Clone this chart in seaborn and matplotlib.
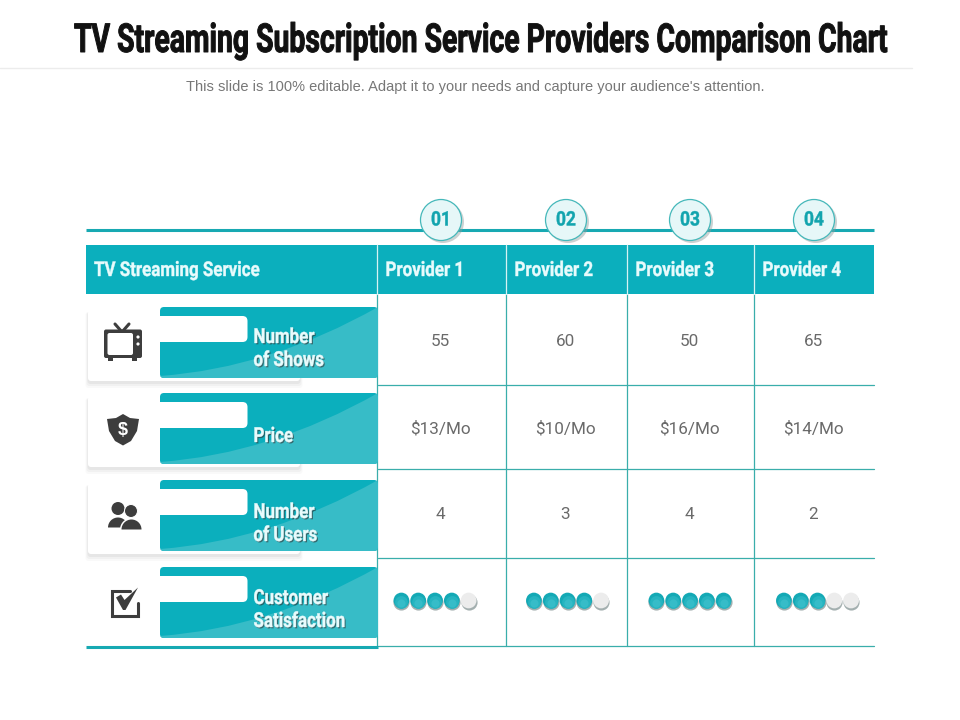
import matplotlib
matplotlib.use("Agg")
import matplotlib.pyplot as plt
import matplotlib.patheffects as pe
from matplotlib.colors import to_rgb
from matplotlib.patches import Circle, FancyBboxPatch, PathPatch, Rectangle, Wedge
from matplotlib.path import Path
from matplotlib.transforms import Affine2D
import pandas as pd
import seaborn as sns

title = "TV Streaming Subscription Service Providers Comparison Chart"
subtitle = "This slide is 100% editable. Adapt it to your needs and capture your audience's attention."
corner_label = "TV Streaming Service"
providers = ["Provider 1", "Provider 2", "Provider 3", "Provider 4"]
badges = ["01", "02", "03", "04"]
row_labels = [["Number", "of Shows"], ["Price"], ["Number", "of Users"], ["Customer", "Satisfaction"]]
shows = ["55", "60", "50", "65"]
prices = ["$13/Mo", "$10/Mo", "$16/Mo", "$14/Mo"]
users = ["4", "3", "4", "2"]
satisfaction = [4, 4, 5, 3]
max_rating = 5

TEAL = "#0bafbd"
LIGHT = "#37bcc7"
LINE = "#3aaeab"
DARK = "#3d3d3d"
HEAD = "#e8fbfc"


class Tall(pe.AbstractPathEffect):
    # no condensed font here, so stretch the glyphs upward from the baseline
    def __init__(self, sy, weight=0.0, shadow=None):
        super().__init__()
        self.sy = sy
        self.weight = weight
        self.shadow = shadow

    def draw_path(self, renderer, gc, tpath, affine, rgbFace=None):
        stretched = Affine2D().scale(1, self.sy) + affine
        if self.shadow:
            gc0 = renderer.new_gc()
            gc0.copy_properties(gc)
            gc0.set_linewidth(0)
            gc0.set_alpha(0.6)
            renderer.draw_path(gc0, tpath, stretched + Affine2D().translate(1.3, -1.3), to_rgb(self.shadow))
            gc0.restore()
        gc1 = renderer.new_gc()
        gc1.copy_properties(gc)
        gc1.set_linewidth(self.weight)
        gc1.set_foreground(rgbFace)
        renderer.draw_path(gc1, tpath, stretched, rgbFace)
        gc1.restore()


sns.set_theme(style="white")
fig = plt.figure(figsize=(9.6, 7.2), dpi=100, facecolor="white")
ax = fig.add_axes([0, 0, 1, 1])
ax.set_xlim(0, 960)
ax.set_ylim(720, 0)
ax.axis("off")

# layout of the table, in pixels
col_edges = [377, 506, 627, 754, 874]
col_centers = [441, 566, 690, 814]
dot_centers = [435, 567.5, 690, 817.5]
row_tops = [307, 393, 480, 567]
row_lines = [385, 469, 558, 646]
value_y = [341.5, 428.5, 514.5]
label_base = [[343, 366], [442], [518, 541], [604, 627]]


def narrow(x, y, s, size=12.2, sy=1.2, color=HEAD, weight=0.3, shadow=None, ha="left", z=4):
    ax.text(x, y, s, ha=ha, va="baseline", fontsize=size, family="Roboto", weight="bold", color=color,
            zorder=z, path_effects=[Tall(sy, weight, shadow)])


# title block
narrow(481, 52, title, size=20.4, sy=1.41, color="#111111", weight=0.7, ha="center")
ax.plot([0, 912], [68, 68], color="#ececec", lw=1)
ax.text(475.5, 86.5, subtitle, ha="center", va="center", fontsize=10.5,
        family="Liberation Sans", color="#777777")

# top rule, header band
ax.plot([86, 874], [229.5, 229.5], color="#17a9b2", lw=2.2, solid_capstyle="butt")
ax.add_patch(Rectangle((86, 245), 788, 49, color=TEAL, lw=0))
narrow(94, 276, corner_label)
for i, name in enumerate(providers):
    narrow(col_edges[i] + 8.5, 276, name)
    ax.add_patch(Circle((col_centers[i] + 2, 222), 21, color="#8f9c9c", alpha=0.45, lw=0, zorder=3))
    ax.add_patch(Circle((col_centers[i], 220), 20.5, facecolor="#e6f7f8", edgecolor="#45b8ba", lw=0.9, zorder=3))
    narrow(col_centers[i], 225.5, badges[i], size=12.5, sy=1.15, color="#12a4ae", ha="center")

# grid lines
for x in col_edges[:-1]:
    ax.plot([x, x], [245, 646], color=LINE, lw=0.9, zorder=1)
    ax.plot([x, x], [245, 294], color="#d5f3f5", lw=0.9, zorder=2)
for y in row_lines:
    ax.plot([378, 874], [y, y], color=LINE, lw=0.9, zorder=1)


def draw_row_tab(top, lines, bases, last=False):
    bottom = top + 71
    if not last:
        for spread, alpha in [(5, 0.05), (3, 0.08), (1, 0.12)]:
            ax.add_patch(FancyBboxPatch((88 - spread / 2, top + 5), 212 + spread, 71 + spread,
                                        boxstyle="round,pad=0,rounding_size=3", color="#9a9a9a",
                                        alpha=alpha, lw=0, zorder=2))
    ax.add_patch(FancyBboxPatch((88, top + 3), 212, 71 + (5 if last else 0),
                                boxstyle="round,pad=0,rounding_size=3", color="white", lw=0, zorder=2))
    tab = FancyBboxPatch((160, top), 218, 71, boxstyle="round,pad=0,rounding_size=4",
                         color=TEAL, lw=0, zorder=3)
    ax.add_patch(tab)
    wedge = PathPatch(Path([(160, bottom - 2), (270, bottom - 10), (378, top), (378, bottom), (160, bottom)],
                           [Path.MOVETO, Path.CURVE3, Path.CURVE3, Path.LINETO, Path.LINETO]),
                      color=LIGHT, lw=0, zorder=3)
    ax.add_patch(wedge)
    wedge.set_clip_path(tab)
    ax.add_patch(FancyBboxPatch((150, top + 9), 97.5, 26, boxstyle="round,pad=0,rounding_size=5",
                                color="white", lw=0, zorder=3))
    for text, base in zip(lines, bases):
        narrow(253.5, base, text, size=12.2, sy=1.22, shadow="#333333")


for i, top in enumerate(row_tops):
    draw_row_tab(top, row_labels[i], label_base[i], last=i == len(row_tops) - 1)
ax.plot([86, 378], [647, 647], color="#17a9b2", lw=2.2, solid_capstyle="butt", zorder=4)

# values
for y, values in zip(value_y, [shows, prices, users]):
    for x, v in zip(col_centers, values):
        ax.text(x - 0.5, y, v, ha="center", va="center", fontsize=12.3, family="Roboto", color="#6a6a6a")

# rating dots
rows = []
for center, score in zip(dot_centers, satisfaction):
    for slot in range(max_rating):
        rows.append({"x": center + (slot - 2) * 16.8, "filled": slot < score})
dots = pd.DataFrame(rows)
dots["y"] = 600.5
shade = dots.assign(y=602)
sns.scatterplot(data=shade, x="x", y="y", color="#a3afaf", s=135, linewidth=0, ax=ax, legend=False, zorder=5)
sns.scatterplot(data=dots, x="x", y="y", hue="filled", palette={True: "#14a9b5", False: "#ececec"},
                s=128, linewidth=0, ax=ax, legend=False, zorder=6)
glow = dots[dots["filled"]].assign(y=601.5)
sns.scatterplot(data=glow, x="x", y="y", color="#26b4c0", s=85, linewidth=0, ax=ax, legend=False, zorder=7)
sns.scatterplot(data=glow.assign(y=602.5), x="x", y="y", color="#36bcc8", s=35, linewidth=0, ax=ax, legend=False, zorder=8)
ax.set_xlim(0, 960)
ax.set_ylim(720, 0)
ax.set_xlabel("")
ax.set_ylabel("")

# icons
# tv
ax.plot([115, 122, 129], [324, 332, 324], color=DARK, lw=2.2, zorder=6)
ax.add_patch(FancyBboxPatch((104, 329.5), 38, 28.5, boxstyle="round,pad=0,rounding_size=2", color=DARK, lw=0, zorder=6))
ax.add_patch(FancyBboxPatch((107.5, 333), 25.5, 22, boxstyle="round,pad=0,rounding_size=2", color="white", lw=0, zorder=6))
ax.add_patch(Circle((138, 337), 1.6, color="white", lw=0, zorder=6))
ax.add_patch(Circle((138, 344), 1.6, color="white", lw=0, zorder=6))
ax.add_patch(Rectangle((108, 358), 5, 2.5, color=DARK, lw=0, zorder=6))
ax.add_patch(Rectangle((132, 358), 5, 2.5, color=DARK, lw=0, zorder=6))

# shield
shield = [(123, 414), (130, 418), (139, 419), (137, 431), (131, 441), (123, 445.5),
          (115, 441), (109, 431), (107, 419), (116, 418)]
ax.fill([p[0] for p in shield], [p[1] for p in shield], color=DARK, lw=0, zorder=6)
ax.text(123, 430.5, "$", ha="center", va="center", fontsize=13, family="Liberation Sans",
        weight="bold", color="white", zorder=7)

# users
ax.add_patch(Circle((118, 508.5), 6.5, color=DARK, lw=0, zorder=6))
ax.add_patch(Wedge((118, 527.5), 10, 180, 360, color=DARK, lw=0, zorder=6))
ax.add_patch(Circle((131, 511), 6.5, facecolor=DARK, edgecolor="white", lw=0.7, zorder=7))
ax.add_patch(Wedge((131.5, 529.5), 11.5, 180, 360, color="white", lw=0, zorder=7))
ax.add_patch(Wedge((131.5, 529.5), 10, 180, 360, color=DARK, lw=0, zorder=7))

# check box
box = [(130, 590.5), (111.5, 590.5), (111.5, 616), (137.5, 616), (137.5, 603)]
ax.plot([p[0] for p in box], [p[1] for p in box], color=DARK, lw=2.2, zorder=6, solid_joinstyle="miter")
tick = [(116, 597.5), (121, 594.5), (124.5, 600), (138, 587.5), (125.5, 610), (123, 610)]
ax.fill([p[0] for p in tick], [p[1] for p in tick], color=DARK, lw=0, zorder=8)

fig.savefig("out.png", dpi=100, facecolor="white")
